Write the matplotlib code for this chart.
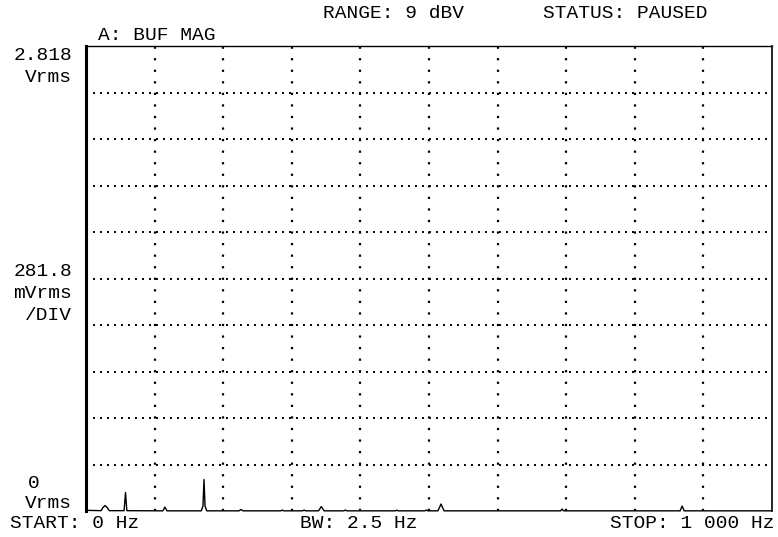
import matplotlib

matplotlib.use("Agg")
import matplotlib.pyplot as plt

# analyser settings (HP dynamic signal analyser screen dump)
FULL_SCALE_VRMS = 2.818
PER_DIV_VRMS = 0.2818
START_HZ = 0
STOP_HZ = 1000

# trace vertices: frequency (Hz) vs magnitude (Vrms)
freq_hz = [0, 22, 24.5, 27.7, 31, 34, 55.5, 57.6, 59.5, 112, 115, 118,
           168, 170.5, 172, 173.5, 176, 223, 226, 229, 284, 286, 288,
           316, 318, 320, 339, 343, 347, 376, 378, 380, 451, 453, 455,
           494, 496, 498, 513, 517.5, 522, 692, 694, 696, 866, 869, 872, 1000]
mag_vrms = [0.004, 0.002, 0.02, 0.033, 0.02, 0.002, 0.002, 0.112, 0.002, 0.001, 0.024, 0.001,
            0.001, 0.03, 0.191, 0.03, 0.001, 0.001, 0.009, 0.001, 0.001, 0.006, 0.001,
            0.001, 0.006, 0.001, 0.001, 0.027, 0.001, 0.001, 0.006, 0.001, 0.001, 0.005, 0.001,
            0.001, 0.006, 0.001, 0.001, 0.042, 0.001, 0.001, 0.012, 0.001, 0.001, 0.03, 0.001, 0.001]

W, H = 778, 537
FONT = "Liberation Mono"


def px_text(fig, x, y, s, ha="left"):
    fig.text(x / W, 1 - y / H, s, ha=ha, va="center", family=FONT,
             fontsize=14, color="black")


fig = plt.figure(figsize=(W / 100, H / 100), dpi=100)
ax = fig.add_axes([86 / W, 1 - 511 / H, (772 - 86) / W, (511 - 46) / H])
ax.set_xlim(START_HZ, STOP_HZ)
ax.set_ylim(0, FULL_SCALE_VRMS)
ax.set_xticks([])
ax.set_yticks([])

# dotted graticule: 10 x 10 divisions
for i in range(1, 10):
    ax.plot([START_HZ, STOP_HZ], [i * PER_DIV_VRMS] * 2, color="black",
            lw=1.4, ls=(0, (1, 2.6)))
    ax.plot([i * 100] * 2, [0, FULL_SCALE_VRMS], color="black",
            lw=1.6, ls=(0, (1, 4.2)))

ax.plot(freq_hz, mag_vrms, color="black", lw=1.0, clip_on=False)

ax.spines["bottom"].set_visible(False)
ax.spines["left"].set_linewidth(2.2)
ax.spines["top"].set_linewidth(1.0)
ax.spines["right"].set_linewidth(1.2)

# screen annotations
px_text(fig, 98, 35, "A: BUF MAG")
px_text(fig, 323, 13, "RANGE: 9 dBV")
px_text(fig, 543, 13, "STATUS: PAUSED")
px_text(fig, 72, 56, "2.818", ha="right")
px_text(fig, 72, 78, "Vrms", ha="right")
px_text(fig, 72, 271, "281.8", ha="right")
px_text(fig, 72, 293, "mVrms", ha="right")
px_text(fig, 72, 315, "/DIV", ha="right")
px_text(fig, 34, 483, "0", ha="center")
px_text(fig, 72, 503, "Vrms", ha="right")
px_text(fig, 10, 523, "START: 0 Hz")
px_text(fig, 300, 523, "BW: 2.5 Hz")
px_text(fig, 774, 523, "STOP: 1 000 Hz", ha="right")

fig.savefig("out.png", dpi=100, facecolor="white")
